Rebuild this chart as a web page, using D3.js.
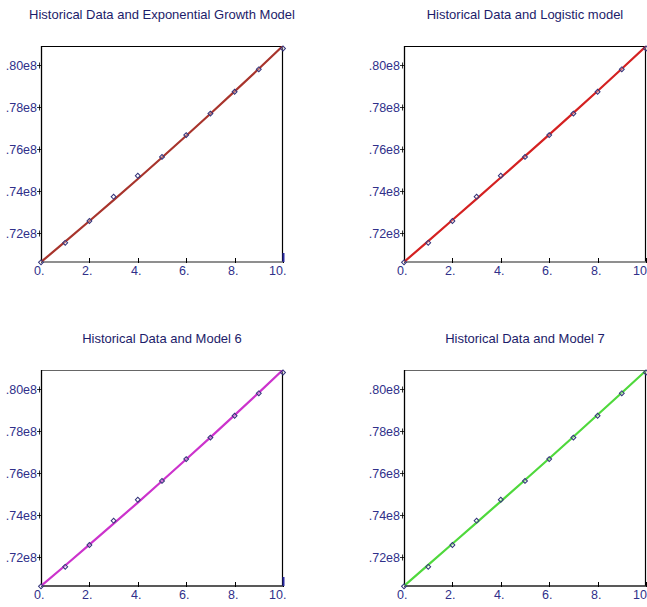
<!DOCTYPE html>
<html>
<head>
<meta charset="utf-8">
<script src="https://cdn.jsdelivr.net/npm/d3@7"></script>
<style>
  html, body { margin: 0; padding: 0; background: #ffffff; }
  svg { display: block; }
  text { font-family: Arial, "Liberation Sans", sans-serif; }
</style>
</head>
<body>
<svg id="chart" width="647" height="607"></svg>
<script>
// ---- data ----
const years = [0, 1, 2, 3, 4, 5, 6, 7, 8, 9, 10];
const historical = [70586256, 71517100, 72561312, 73722988, 74724269, 75627384, 76667864, 77695904, 78741053, 79814871, 80810525];
const expModel = [70.60e6, 71.57e6, 72.56e6, 73.56e6, 74.57e6, 75.60e6, 76.64e6, 77.69e6, 78.76e6, 79.84e6, 80.94e6];
const logisticModel = [70.60e6, 71.60e6, 72.61e6, 73.62e6, 74.64e6, 75.66e6, 76.69e6, 77.73e6, 78.78e6, 79.84e6, 80.92e6];
const model6 = [70.60e6, 71.58e6, 72.58e6, 73.58e6, 74.59e6, 75.62e6, 76.66e6, 77.71e6, 78.77e6, 79.85e6, 80.94e6];
const model7 = [70.60e6, 71.61e6, 72.62e6, 73.63e6, 74.65e6, 75.67e6, 76.70e6, 77.74e6, 78.79e6, 79.84e6, 80.90e6];
const titles = ["Historical Data and Exponential Growth Model", "Historical Data and Logistic model", "Historical Data and Model 6", "Historical Data and Model 7"];
const xTicks = [0, 2, 4, 6, 8, 10];
const xTickLabels = ["0.", "2.", "4.", "6.", "8.", "10."];
const xTickLabelsEdge = ["0.", "2.", "4.", "6.", "8.", "10"];
const yTicks = [72e6, 74e6, 76e6, 78e6, 80e6];
const yTickLabels = [".72e8", ".74e8", ".76e8", ".78e8", ".80e8"];
const yDomain = [70.6e6, 80.93e6];
const xDomain = [0, 10];

// ---- layout ----
const svg = d3.select("#chart");
const W = 242, H = 216;
const panels = [
  { ox: 41,  oy: 46,  model: expModel,      color: "#a8342c", top: "#000", xaxis: "#6a6a6a", mark: true,  labels: xTickLabels },
  { ox: 404, oy: 46,  model: logisticModel, color: "#d42121", top: "#000", xaxis: "#6a6a6a", mark: false, labels: xTickLabelsEdge },
  { ox: 41,  oy: 370, model: model6,        color: "#cc33cc", top: "#666", xaxis: "#222",    mark: true,  labels: xTickLabels },
  { ox: 404, oy: 370, model: model7,        color: "#4fd83c", top: "#666", xaxis: "#222",    mark: false, labels: xTickLabelsEdge }
];
const textColor = "#30308a";
const titleColor = "#1c1c6a";

panels.forEach((p, i) => {
  const x = d3.scaleLinear().domain(xDomain).range([0, W]);
  const y = d3.scaleLinear().domain(yDomain).range([H, 0]);
  const g = svg.append("g").attr("transform", `translate(${p.ox},${p.oy})`);

  // title
  g.append("text")
    .attr("x", W / 2).attr("y", -27)
    .attr("text-anchor", "middle")
    .attr("font-size", 13)
    .attr("fill", titleColor)
    .text(titles[i]);

  // clip
  const cid = "clip" + i;
  g.append("clipPath").attr("id", cid)
    .append("rect").attr("x", 0).attr("y", 0).attr("width", W).attr("height", H);

  // frame
  g.append("line").attr("x1", 0).attr("x2", W).attr("y1", 0.5).attr("y2", 0.5)
    .attr("stroke", p.top).attr("stroke-width", 1.2);
  g.append("line").attr("x1", W - 0.5).attr("x2", W - 0.5).attr("y1", 0).attr("y2", H)
    .attr("stroke", "#000").attr("stroke-width", 1.2);
  g.append("line").attr("x1", 0).attr("x2", W).attr("y1", H).attr("y2", H)
    .attr("stroke", p.xaxis).attr("stroke-width", 1.6);
  g.append("line").attr("x1", 0.5).attr("x2", 0.5).attr("y1", 0).attr("y2", H)
    .attr("stroke", "#000").attr("stroke-width", 1.3);

  // y ticks
  yTicks.forEach((t, k) => {
    const yy = Math.round(y(t)) + 0.5;
    g.append("line").attr("x1", -4).attr("x2", 0).attr("y1", yy).attr("y2", yy)
      .attr("stroke", "#000").attr("stroke-width", 0.8);
    g.append("line").attr("x1", -1.5).attr("x2", -1.5).attr("y1", yy - 3).attr("y2", yy + 3)
      .attr("stroke", "#000").attr("stroke-width", 0.8);
    g.append("text")
      .attr("x", -4).attr("y", yy + 4.5)
      .attr("text-anchor", "end")
      .attr("font-size", 12.5)
      .attr("fill", textColor)
      .text(yTickLabels[k]);
  });

  // x ticks
  xTicks.forEach((t, k) => {
    const xx = Math.round(x(t)) + 0.5;
    g.append("line").attr("x1", xx).attr("x2", xx).attr("y1", H - 4).attr("y2", H + 1)
      .attr("stroke", "#000").attr("stroke-width", 1);
    const lab = p.labels[k];
    g.append("text")
      .attr("x", lab === "10" ? xx + 0.5 : xx + 3).attr("y", H + 13)
      .attr("text-anchor", "end")
      .attr("font-size", 12.5)
      .attr("fill", textColor)
      .text(lab);
  });

  // model line
  const line = d3.line().x((d, j) => x(years[j])).y(d => y(d));
  g.append("path")
    .datum(p.model)
    .attr("clip-path", `url(#${cid})`)
    .attr("d", line)
    .attr("fill", "none")
    .attr("stroke", p.color)
    .attr("stroke-width", 2.2);

  // historical points (small diamonds)
  const sym = d3.symbol().type(d3.symbolSquare).size(12);
  g.selectAll("path.pt")
    .data(historical)
    .enter().append("path")
    .attr("class", "pt")
    .attr("d", sym)
    .attr("transform", (d, j) => `translate(${x(years[j])},${y(d)}) rotate(45)`)
    .attr("fill", "#ffffff")
    .attr("fill-opacity", 0.3)
    .attr("stroke", "#33337a")
    .attr("stroke-width", 1);

  // small end marker at lower-right
  if (p.mark) {
    g.append("line")
      .attr("x1", x(10) + 0.5).attr("x2", x(10) + 0.5)
      .attr("y1", y(yDomain[0]) - 9).attr("y2", y(yDomain[0]))
      .attr("stroke", "#2a2aa0").attr("stroke-width", 2);
  }
});
</script>
</body>
</html>
